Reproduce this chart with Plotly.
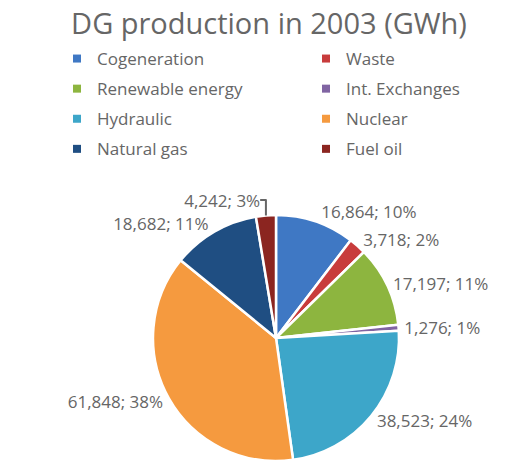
import plotly.graph_objects as go

categories = ["Cogeneration", "Waste", "Renewable energy", "Int. Exchanges",
              "Hydraulic", "Nuclear", "Natural gas", "Fuel oil"]
values = [16864, 3718, 17197, 1276, 38523, 61848, 18682, 4242]
pct_labels = ["10%", "2%", "11%", "1%", "24%", "38%", "11%", "3%"]
colors = ["#3F78C4", "#C83C3C", "#8DB53F", "#8064A2",
          "#3DA6C9", "#F59A3F", "#1F4E82", "#8B2520"]

W, H = 527, 466
text_color = "#666666"

fig = go.Figure()
fig.add_trace(go.Pie(
    labels=categories,
    values=values,
    customdata=pct_labels,
    sort=False,
    direction="clockwise",
    rotation=0,
    marker=dict(colors=colors, line=dict(color="white", width=2.5)),
    texttemplate="%{value:,}; %{customdata}",
    textposition="outside",
    textfont=dict(family="Open Sans", size=17, color=text_color),
    hoverinfo="label+value+percent",
    domain=dict(x=[153 / W, 399 / W], y=[1 - 461 / H, 1 - 215 / H]),
    automargin=False,
    showlegend=False,
))

# legend entries (two columns, as in the original chart)
for i, (name, col) in enumerate(zip(categories, colors)):
    fig.add_trace(go.Scatter(
        x=[None], y=[None], mode="markers", name=name,
        marker=dict(symbol="square", size=8, color=col),
        legend="legend" if i % 2 == 0 else "legend2",
        legendgroup=name, showlegend=True, hoverinfo="skip",
    ))

legend_common = dict(
    orientation="v", yanchor="top", xanchor="left",
    font=dict(family="Open Sans", size=17, color=text_color),
    tracegroupgap=5, bgcolor="rgba(0,0,0,0)", itemclick=False,
    itemdoubleclick=False,
)

fig.update_layout(
    width=W, height=H,
    margin=dict(l=0, r=0, t=0, b=0),
    paper_bgcolor="white",
    plot_bgcolor="white",
    xaxis=dict(visible=False),
    yaxis=dict(visible=False),
    title=dict(text="DG production in 2003 (GWh)", x=269 / W, xanchor="center",
               y=1 - 24 / H, yanchor="middle",
               font=dict(family="Open Sans", size=29, color=text_color)),
    legend=dict(x=57 / W, y=1 - 41 / H, **legend_common),
    legend2=dict(x=306 / W, y=1 - 41 / H, **legend_common),
)

fig.write_html("out.html", config={"displayModeBar": False},
               post_script="document.body.style.margin='0';")
